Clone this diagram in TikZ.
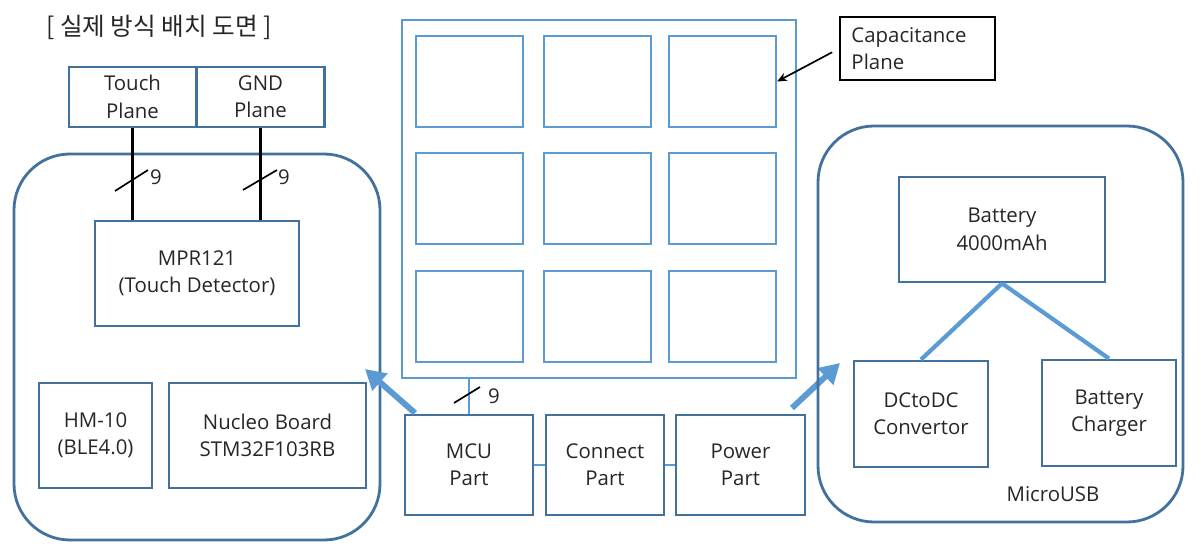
\documentclass[tikz,border=0pt]{standalone}
\usepackage{fontspec}
\setmainfont{Open Sans}
\newfontfamily\kr{Noto Sans CJK KR}
\usetikzlibrary{arrows.meta}
\definecolor{dkblue}{HTML}{41719C}
\definecolor{ltblue}{HTML}{5B9BD5}
\definecolor{ink}{HTML}{262626}
\begin{document}
\begin{tikzpicture}[x=0.025cm,y=-0.025cm,
  sz/.style 2 args={minimum width=#1*0.025cm,minimum height=#2*0.025cm},
  lbl/.style={text=ink,font=\fontsize{14.5}{19.5}\selectfont},
  blk/.style={lbl,draw=dkblue,line width=2pt,inner sep=0pt,align=center},
  frame/.style={draw=dkblue,line width=2pt,rounded corners=1.4cm},
  cell/.style={draw=ltblue,line width=1.6pt,inner sep=0pt},
  note/.style={lbl,draw=black,line width=1.5pt,align=left,text width=3.3cm,
    inner xsep=0.28cm,minimum height=63*0.025cm},
  bus/.style={line width=1.6pt},
  tick/.style={black,line width=1.2pt},
  fat/.style={ltblue,line width=4.2pt,-{Triangle[length=0.5cm,width=0.55cm]}}]
\useasboundingbox (0,0) rectangle (1204,551);
\node[font=\kr\fontsize{17.5}{20}\selectfont,text=ink] (title) at (159,27) {[ 실제 방식 배치 도면 ]};
% left part
\node[frame,sz={366}{386}] (lbox) at (197,347) {};
\node[blk,sz={127}{60}] (touch) at (132.5,97) {Touch\\Plane};
\node[blk,sz={128}{60}] (gnd) at (260.5,97) {GND\\Plane};
\node[blk,sz={204}{105}] (mpr) at (197,273.5) {MPR121\\(Touch Detector)};
\node[blk,sz={113}{105}] (hm) at (95.5,435.5) {HM-10\\(BLE4.0)};
\node[blk,sz={197}{105}] (nucleo) at (267.5,435.5) {Nucleo Board\\STM32F103RB};
\draw[bus,black] (touch.south) -- (touch.south |- mpr.north);
\draw[bus,black] (gnd.south) -- (gnd.south |- mpr.north);
\draw[tick] (115,191) -- (148,170);
\draw[tick] (243,190) -- (277,170);
\node[lbl] (ta) at (156,177) {9};
\node[lbl] (tb) at (284,177) {9};
% capacitance plane
\node[cell,sz={394}{358}] (cap) at (599,199) {};
\foreach \r/\y in {1/81.5,2/198.5,3/316.5}
  \foreach \c/\x in {1/469.5,2/597.5,3/722.5}
    \node[cell,sz={107}{91}] (c\r\c) at (\x,\y) {};
\node[note] (capnote) at (917.5,48.5) {Capacitance\\Plane};
\draw[black,line width=1.2pt,shorten <=0.2cm,-{Stealth[length=7pt,width=6pt]}] (capnote.west) -- (c13.east);
% parts
\node[blk,sz={128}{100}] (mcu) at (469,465) {MCU\\Part};
\node[blk,sz={118}{100}] (conn) at (605,465) {Connect\\Part};
\node[blk,sz={129}{100}] (pwr) at (740.5,465) {Power\\Part};
\draw[bus,ltblue] (mcu.north) -- (mcu.north |- cap.south);
\draw[tick] (454,403) -- (480,387);
\node[lbl] (tc) at (494,396) {9};
\draw[bus,ltblue] (mcu) -- (conn);
\draw[bus,ltblue] (conn) -- (pwr);
\coordinate (mtail) at (415,413);
\coordinate (mtip) at (365,369);
\coordinate (ptail) at (792,408);
\coordinate (ptip) at (840,363);
\draw[fat] (mtail) -- (mtip);
\draw[fat] (ptail) -- (ptip);
% right part
\node[frame,sz={365}{396}] (rbox) at (1000.5,324) {};
\node[blk,sz={206}{105}] (bat) at (1002,229.5) {Battery\\4000mAh};
\node[blk,sz={134}{106}] (dc) at (921,414) {DCtoDC\\Convertor};
\node[blk,sz={134}{106}] (chg) at (1109,413) {Battery\\Charger};
\draw[ltblue,line width=3pt] (bat.south) -- (dc.north);
\draw[ltblue,line width=3pt] (bat.south) -- (chg.north);
\node[lbl] (usb) at (1053,494) {MicroUSB};
\end{tikzpicture}
\end{document}
